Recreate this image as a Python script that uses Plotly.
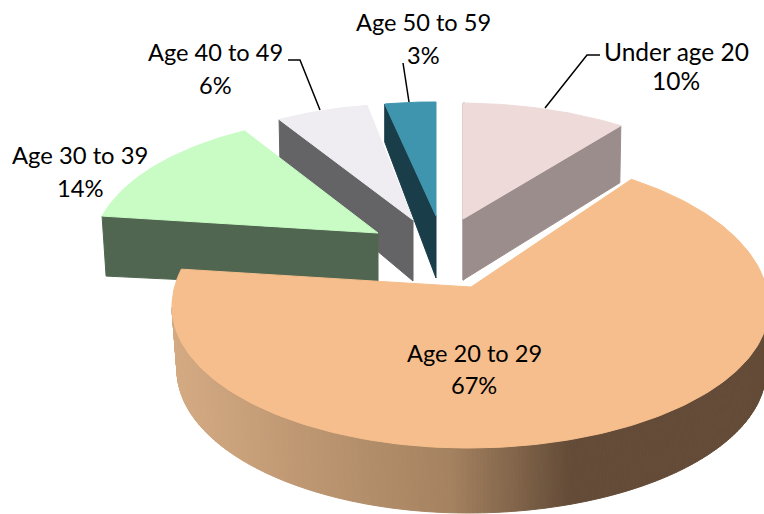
import math
import plotly.graph_objects as go

# ---- data ----
categories = ["Under age 20", "Age 20 to 29", "Age 30 to 39", "Age 40 to 49", "Age 50 to 59"]
values = [10, 67, 14, 6, 3]

# ---- styles / layout ----
top_colors = ["#EFDADA", "#F6BE8C", "#C8FCC4", "#EFECF2", "#4095AE"]
wall_colors = ["#9B8D8B", None, "#506650", "#646467", "#1A3D4A"]
# apex, ellipse centre, rx (left/right), ry(back), ry(front), aspect, depth at corner, depth at apex, corner x-shift
geom = {
    "Under age 20": dict(ax=463, ay=219, cx=458, cy=235, rx=290, rxr=290, rb=132, rf=132, asp=2.33, d0=57, d1=61, sx=-1),
    "Age 20 to 29": dict(ax=471, ay=287, cx=468, cy=307, rx=296, rxr=301, rb=152, rf=141, asp=2.05, d0=63, d1=63, sx=0),
    "Age 30 to 39": dict(ax=378, ay=233, cx=372, cy=250, rx=279, rxr=279, rb=134, rf=134, asp=2.06, d0=60, d1=56, sx=4),
    "Age 40 to 49": dict(ax=413, ay=220, cx=407, cy=236, rx=272, rxr=272, rb=132, rf=132, asp=2.10, d0=50, d1=61, sx=1),
    "Age 50 to 59": dict(ax=436, ay=216, cx=432, cy=232, rx=270, rxr=270, rb=130, rf=130, asp=2.40, d0=38, d1=62, sx=0),
}
# lower outline of the curved wall: centre y, rx left, rx right, ry
wall_bottom = dict(cy=370, rxl=291, rxr=298, ry=143)
draw_order = ["Age 50 to 59", "Age 40 to 49", "Under age 20", "Age 30 to 39", "Age 20 to 29"]
# which edge of each slice carries the visible flat wall: 0 = start edge, 1 = end edge
wall_edge = {"Under age 20": 1, "Age 30 to 39": 0, "Age 40 to 49": 0, "Age 50 to 59": 0}
grad_stops = [(160, (214, 172, 132)), (450, (165, 130, 96)), (572, (99, 75, 55)), (780, (99, 75, 55))]
leaders = {
    "Under age 20": ([545, 587, 600], [108, 55, 55]),
    "Age 40 to 49": ([320, 300, 288], [110, 60, 60]),
    "Age 50 to 59": ([409, 403], [102, 63]),
}
label_pos = {
    "Under age 20": (676, 51, 80),
    "Age 20 to 29": (474, 353, 385),
    "Age 30 to 39": (80, 155, 188),
    "Age 40 to 49": (215, 52, 85),
    "Age 50 to 59": (423, 22, 55),
}
label_size = {"Under age 20": 24.5, "Age 20 to 29": 23.6, "Age 30 to 39": 23.8,
              "Age 40 to 49": 23.6, "Age 50 to 59": 23.6}
FONT = "Lato"


def rim(g, theta):
    """Point where the ray for pie angle theta (deg, clockwise from top) meets the rim."""
    s, c = math.sin(math.radians(theta)), math.cos(math.radians(theta))
    dx, dy = s * g["asp"], -c
    rx = g["rxr"] if dx > 0 else g["rx"]
    for ry in (g["rb"], g["rf"]):
        ox, oy = g["ax"] - g["cx"], g["ay"] - g["cy"]
        A = dx * dx / rx ** 2 + dy * dy / ry ** 2
        B = 2 * (ox * dx / rx ** 2 + oy * dy / ry ** 2)
        C = ox * ox / rx ** 2 + oy * oy / ry ** 2 - 1
        t = (-B + math.sqrt(B * B - 4 * A * C)) / (2 * A)
        x, y = g["ax"] + t * dx, g["ay"] + t * dy
        if ry == g["rf"] or y <= g["cy"]:
            return x, y


def poly(xs, ys, color):
    return go.Scatter(x=xs, y=ys, mode="lines", fill="toself", fillcolor=color,
                      line=dict(color=color, width=1), hoverinfo="skip", showlegend=False)


def lerp_color(x):
    for (x0, c0), (x1, c1) in zip(grad_stops, grad_stops[1:]):
        if x0 <= x <= x1:
            f = (x - x0) / (x1 - x0)
            return "rgb(%d,%d,%d)" % tuple(round(a + (b - a) * f) for a, b in zip(c0, c1))
    return "rgb(%d,%d,%d)" % grad_stops[-1][1]


def wall_pts(g, p):
    c, s = math.cos(p), math.sin(p)
    top = (g["cx"] + (g["rxr"] if c > 0 else g["rx"]) * c, g["cy"] + g["rf"] * s)
    b = wall_bottom
    bot = (g["cx"] + (b["rxr"] if c > 0 else b["rxl"]) * c, b["cy"] + b["ry"] * s)
    return top, bot


# slice angles come from the values
total = sum(values)
angles = {}
cum = 0
for name, v in zip(categories, values):
    angles[name] = (cum * 360 / total, (cum + v) * 360 / total)
    cum += v

fig = go.Figure()
for name in draw_order:
    g = geom[name]
    a0, a1 = angles[name]
    i = categories.index(name)
    if name in wall_edge:
        px, py = rim(g, a1 if wall_edge[name] else a0)
        fig.add_trace(poly([px, g["ax"], g["ax"], px + g["sx"], px],
                           [py, g["ay"], g["ay"] + g["d1"], py + g["d0"], py], wall_colors[i]))
        if name == "Under age 20":
            tx, ty = rim(g, a0)
            fig.add_trace(poly([tx, tx + 2, g["ax"] + 1, g["ax"], tx],
                               [ty, ty, g["ay"] + g["d1"], g["ay"] + g["d1"], ty], wall_colors[i]))
    else:
        # curved front wall, drawn as narrow strips to carry the left-to-right shading
        n = 240
        for k in range(n):
            p0 = math.pi * (1 - k / n)
            p1 = math.pi * (1 - (k + 1) / n)
            (xa, ya), (xa2, ya2) = wall_pts(g, p0)
            (xb, yb), (xb2, yb2) = wall_pts(g, p1)
            fig.add_trace(poly([xa, xb, xb2, xa2, xa], [ya, yb, yb2, ya2, ya], lerp_color((xa + xb) / 2)))
    steps = max(2, int(a1 - a0))
    arc = [rim(g, a0 + (a1 - a0) * k / steps) for k in range(steps + 1)]
    xs = [g["ax"]] + [p[0] for p in arc] + [g["ax"]]
    ys = [g["ay"]] + [p[1] for p in arc] + [g["ay"]]
    fig.add_trace(poly(xs, ys, top_colors[i]))

for name, (lx, ly) in leaders.items():
    fig.add_trace(go.Scatter(x=lx, y=ly, mode="lines", line=dict(color="black", width=1.5),
                             hoverinfo="skip", showlegend=False))

for name, v in zip(categories, values):
    x, y1, y2 = label_pos[name]
    for txt, y in ((name, y1), (f"{v}%", y2)):
        fig.add_annotation(x=x, y=y, text=txt, showarrow=False, xanchor="center", yanchor="middle",
                           font=dict(family=FONT, size=label_size[name], color="black"))

fig.update_layout(
    width=764, height=514, margin=dict(l=0, r=0, t=0, b=0),
    paper_bgcolor="white", plot_bgcolor="white", showlegend=False,
    xaxis=dict(range=[0, 764], visible=False, fixedrange=True),
    yaxis=dict(range=[514, 0], visible=False, fixedrange=True),
)
fig.write_html("out.html", config={"displayModeBar": False},
               post_script="document.body.style.margin='0';document.body.style.overflow='hidden';")
